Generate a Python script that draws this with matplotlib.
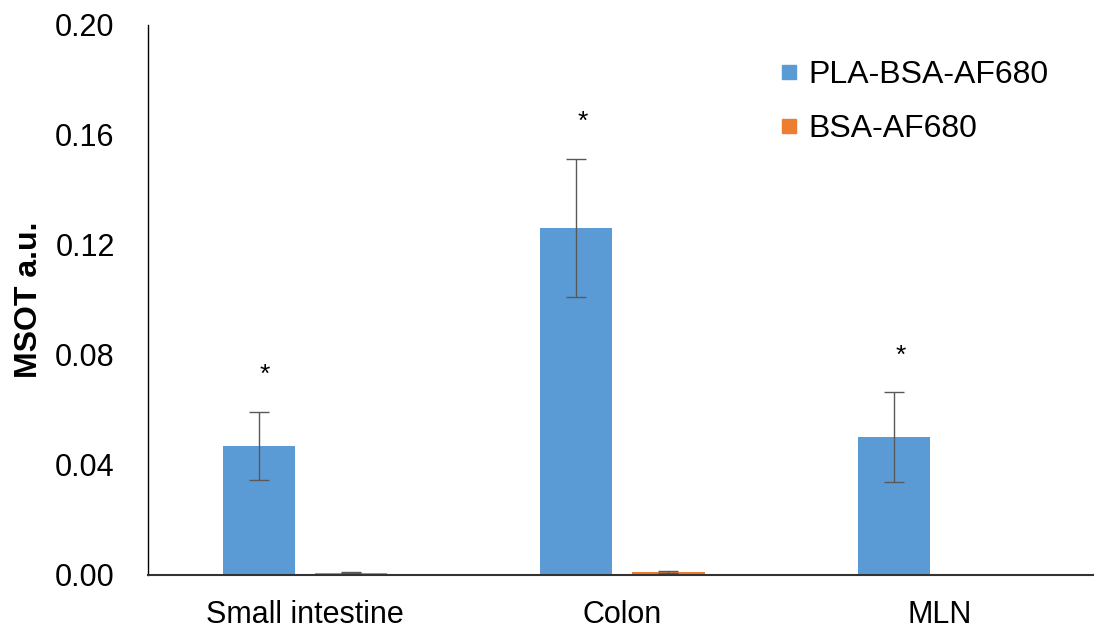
import matplotlib
matplotlib.use("Agg")
import matplotlib.pyplot as plt
from matplotlib.lines import Line2D
import numpy as np

categories = ["Small intestine", "Colon", "MLN"]
series_names = ["PLA-BSA-AF680", "BSA-AF680"]
pla_values = [0.0469, 0.1262, 0.0502]
pla_errors = [0.0125, 0.0250, 0.0162]
bsa_values = [0.0009, 0.0010, 0.0]
bsa_errors = [0.0001, 0.0004, 0.0]
yticks = [0.00, 0.04, 0.08, 0.12, 0.16, 0.20]
ylabel = "MSOT a.u."
star = "*"

blue = "#5B9BD5"
orange = "#ED7D31"
errc = "#595959"
font = "Liberation Sans"

fig = plt.figure(figsize=(10.94, 6.30), dpi=100)
ax = fig.add_axes([148/1094, 55/630, 1 - 148/1094, 550/630])

x = np.arange(len(categories))
w = 0.227
off = 0.145
ekw = dict(ecolor=errc, elinewidth=1.0, capsize=7, capthick=1.0)
ax.bar(x - off, pla_values, w, color=blue, yerr=pla_errors, error_kw=ekw, zorder=2)
ax.bar(x + off, bsa_values, w, color=orange, yerr=bsa_errors, error_kw=ekw, zorder=2)

for xi, v, e in zip(x, pla_values, pla_errors):
    ax.annotate(star, (xi - off + 0.02, v + e), xytext=(0, 18), textcoords="offset points",
                ha="center", va="bottom", fontsize=19, family=font, color="black")

ax.set_xlim(-0.494, (1094 - 305) / 317.5)
ax.set_ylim(0, 0.20)
ax.set_yticks(yticks)
ax.set_yticklabels([f"{t:.2f}" for t in yticks], family=font, fontsize=22)
ax.set_xticks(x)
ax.set_xticklabels(categories, family=font, fontsize=22)
ax.tick_params(axis="y", length=0, pad=24)
ax.tick_params(axis="x", length=0, pad=18)
ax.set_ylabel(ylabel, family=font, fontsize=23, fontweight="bold", labelpad=8)

for s in ["top", "right"]:
    ax.spines[s].set_visible(False)
ax.spines["left"].set_color("black")
ax.spines["left"].set_linewidth(1.0)
ax.spines["bottom"].set_color("#333333")
ax.spines["bottom"].set_linewidth(1.5)

handles = [Line2D([], [], marker="s", linestyle="none", markersize=10, color=c)
           for c in (blue, orange)]
leg = ax.legend(handles, series_names, loc="upper left", bbox_to_anchor=(751/1094, 1 - 31/630),
                bbox_transform=fig.transFigure, frameon=False, handlelength=0.6,
                handletextpad=0.3, labelspacing=0.75, prop=dict(family=font, size=23))

fig.savefig("out.png", dpi=100)
